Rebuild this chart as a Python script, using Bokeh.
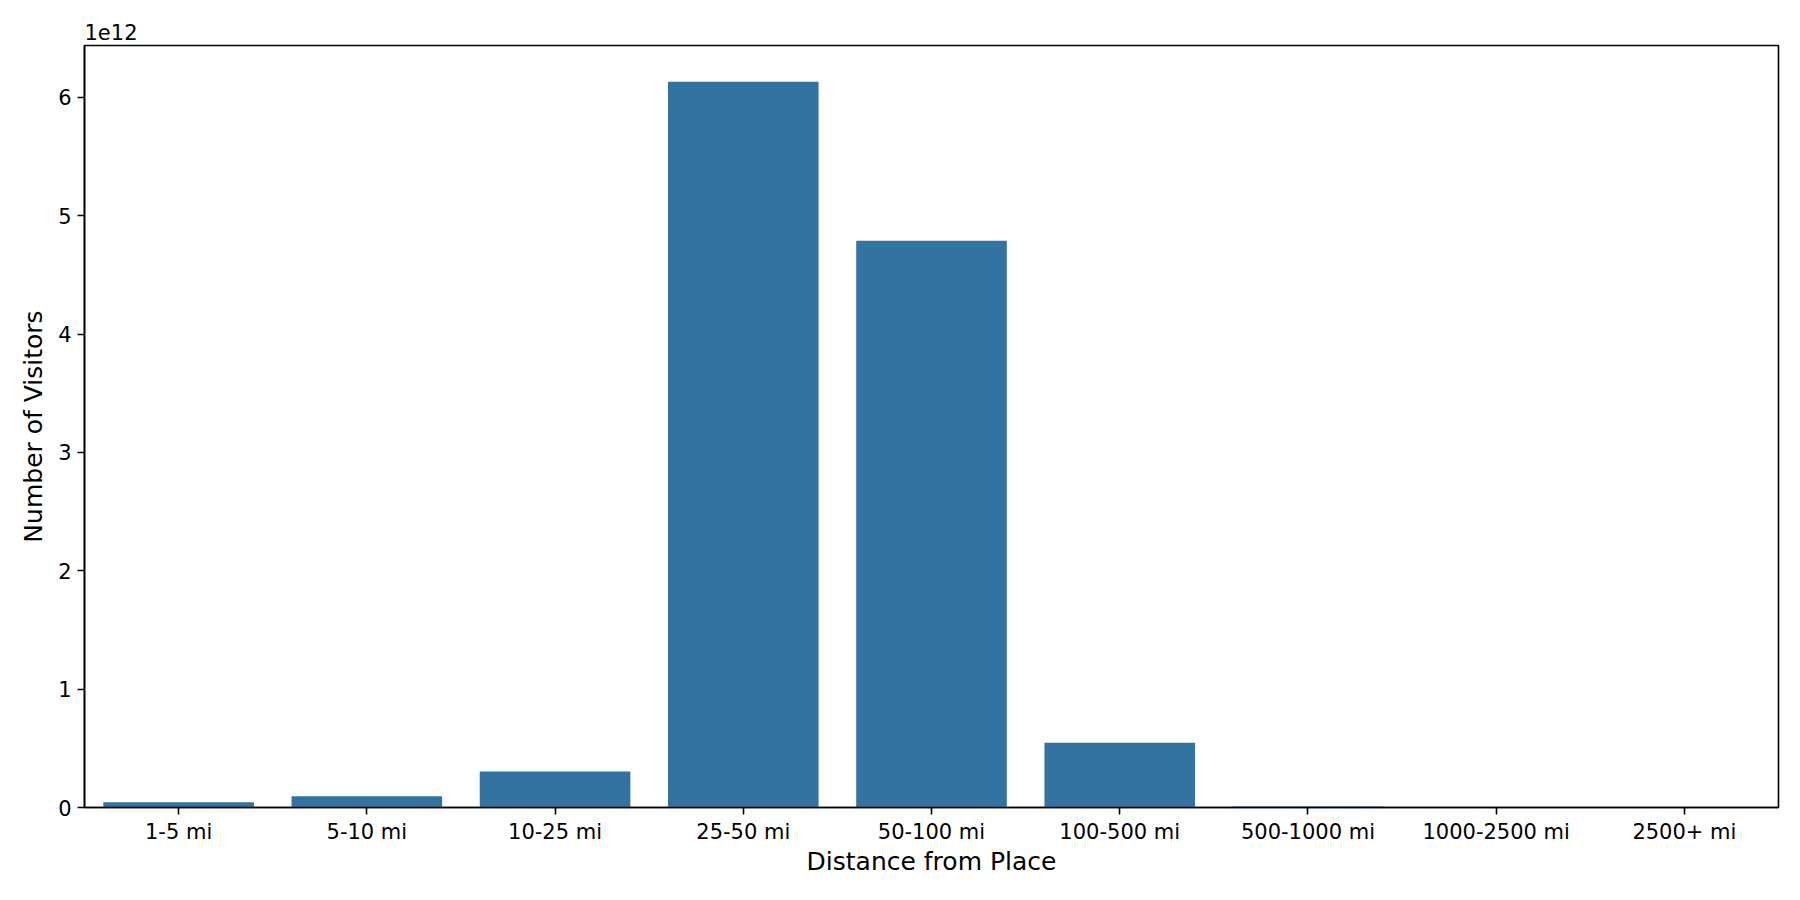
from bokeh.plotting import figure
from bokeh.models import ColumnDataSource, Range1d, FixedTicker, CustomJSTickFormatter
from bokeh.embed import file_html
from bokeh.resources import INLINE

# Data (visitor counts per distance band)
categories = ["1-5 mi", "5-10 mi", "10-25 mi", "25-50 mi", "50-100 mi",
              "100-500 mi", "500-1000 mi", "1000-2500 mi", "2500+ mi"]
visitors = [0.045e12, 0.095e12, 0.305e12, 6.132e12, 4.788e12,
            0.547e12, 0.008e12, 0.005e12, 0.003e12]
y_ticks = [0, 1e12, 2e12, 3e12, 4e12, 5e12, 6e12]
scale_label = "1e12"

source = ColumnDataSource(data=dict(cat=categories, val=visitors))

FONT = "DejaVu Sans"
ymax = max(visitors) * 1.05

p = figure(x_range=categories, y_range=Range1d(0, ymax),
           width=1784, height=884, output_backend="svg", toolbar_location=None,
           min_border_left=84, min_border_right=6, min_border_top=45, min_border_bottom=77)

p.vbar(x="cat", top="val", width=0.8, source=source,
       fill_color="#3274a1", line_color=None)

p.xgrid.visible = False
p.ygrid.visible = False
p.background_fill_color = "white"
p.border_fill_color = "white"
p.outline_line_color = "black"
p.outline_line_width = 1.6

# title holding the offset text "1e12"
p.title.text = scale_label
p.title.align = "left"
p.title.text_font = FONT
p.title.text_font_size = "21px"
p.title.text_font_style = "normal"
p.title.text_color = "black"
p.title.offset = 0
p.title.standoff = 12

p.yaxis.ticker = FixedTicker(ticks=y_ticks)
p.yaxis.formatter = CustomJSTickFormatter(code="return (tick / 1e12).toFixed(0);")

for ax in (p.xaxis[0], p.yaxis[0]):
    ax.axis_line_color = "black"
    ax.axis_line_width = 1.6
    ax.major_tick_line_color = "black"
    ax.major_tick_line_width = 1.6
    ax.major_tick_out = 7
    ax.major_tick_in = 0
    ax.minor_tick_line_color = None
    ax.major_label_text_font = FONT
    ax.major_label_text_font_size = "21px"
    ax.major_label_text_color = "black"
    ax.major_label_standoff = 6
    ax.axis_label_text_font = FONT
    ax.axis_label_text_font_size = "25px"
    ax.axis_label_text_font_style = "normal"
    ax.axis_label_text_color = "black"

p.xaxis.major_label_standoff = 5
p.xaxis.axis_label = "Distance from Place"
p.yaxis.axis_label = "Number of Visitors"
p.xaxis.axis_label_standoff = 0
p.yaxis.axis_label_standoff = 7
p.x_range.range_padding = 0

open("out.html", "w").write(file_html(p, INLINE))
